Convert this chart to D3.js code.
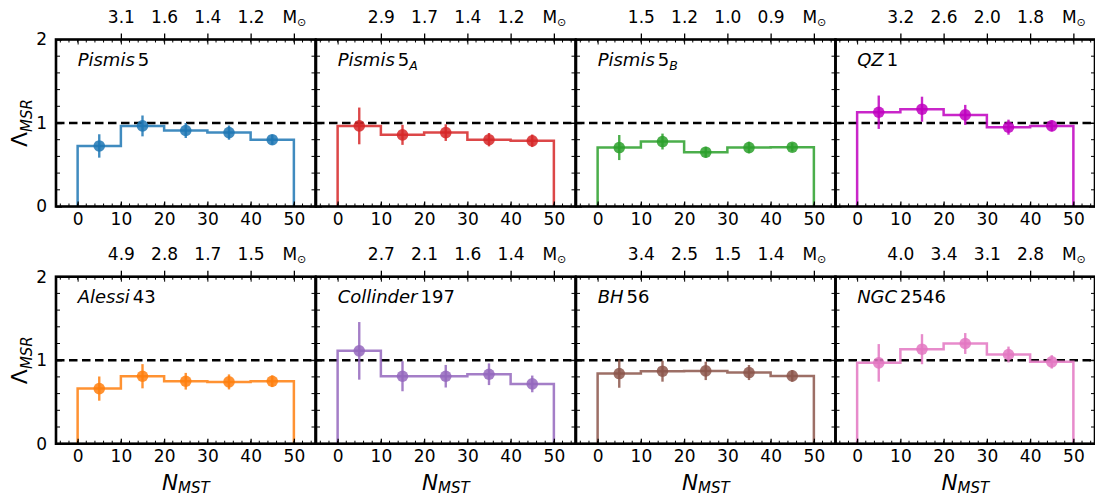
<!DOCTYPE html>
<html><head><meta charset="utf-8">
<script src="https://cdn.jsdelivr.net/npm/d3@7"></script>
<style>
body{margin:0;background:#fff;}
text{font-family:"DejaVu Sans",sans-serif;fill:#000;}
</style></head>
<body><svg id="chart" width="1095" height="499"></svg>
<script>
// ---------------- data ----------------
const titleItalic = ["Pismis","Pismis","Pismis","QZ","Alessi","Collinder","BH","NGC"];
const titleNumber = ["5","5","5","1","43","197","56","2546"];
const titleSub    = ["","A","B","","","","",""];
const seriesColors = ["#1f77b4","#d62728","#2ca02c","#bf00bf","#ff7f0e","#9467bd","#8c564b","#e377c2"];
const binEdges   = [0,10,20,30,40,50];
const binCenters = [5,15,25,35,45];
const massTickPos = [10,20,30,40,50];
const massLabels = [
  ["3.1","1.6","1.4","1.2"],
  ["2.9","1.7","1.4","1.2"],
  ["1.5","1.2","1.0","0.9"],
  ["3.2","2.6","2.0","1.8"],
  ["4.9","2.8","1.7","1.5"],
  ["2.7","2.1","1.6","1.4"],
  ["3.4","2.5","1.5","1.4"],
  ["4.0","3.4","3.1","2.8"]
];
const lambdaValues = [
  [0.725,0.965,0.910,0.885,0.800],
  [0.965,0.858,0.885,0.800,0.787],
  [0.706,0.778,0.650,0.706,0.710],
  [1.129,1.165,1.097,0.950,0.965],
  [0.660,0.808,0.748,0.740,0.748],
  [1.112,0.808,0.808,0.832,0.716],
  [0.840,0.868,0.872,0.852,0.812],
  [0.968,1.132,1.200,1.068,0.980]
];
const lambdaErrors = [
  [0.140,0.125,0.090,0.085,0.060],
  [0.220,0.120,0.100,0.080,0.075],
  [0.150,0.095,0.065,0.070,0.050],
  [0.200,0.150,0.120,0.090,0.065],
  [0.145,0.145,0.100,0.090,0.070],
  [0.345,0.180,0.135,0.130,0.100],
  [0.170,0.125,0.110,0.090,0.070],
  [0.225,0.180,0.125,0.095,0.080]
];
const xTickValues = [0,10,20,30,40,50];
const yTickValues = [0,1,2];

// ---------------- layout ----------------
const svg = d3.select("#chart");
const panelW = 259.5, panelH = 167;
const lefts = [56,316,576,835.5];
const tops = [39.5,276.7];
const tickFont = 17;

const x = d3.scaleLinear().domain([-5,55]).range([0,panelW]);
const y = d3.scaleLinear().domain([0,2]).range([panelH,0]);
const minorX = d3.range(-4,55,2);
const minorY = d3.range(0,2.001,0.2).map(v=>+v.toFixed(2));

titleItalic.forEach((name,i)=>{
  const row = Math.floor(i/4), col = i%4;
  const g = svg.append("g").attr("transform",`translate(${lefts[col]},${tops[row]})`);
  const color = seriesColors[i];
  const vals = lambdaValues[i], errs = lambdaErrors[i];

  // dashed reference line
  g.append("line").attr("x1",0).attr("x2",panelW).attr("y1",y(1)).attr("y2",y(1))
    .attr("stroke","#000").attr("stroke-width",2.4).attr("stroke-dasharray","8.5,4.5");

  // step histogram
  const pts = [[binEdges[0],0]];
  vals.forEach((v,k)=>{ pts.push([binEdges[k],v]); pts.push([binEdges[k+1],v]); });
  pts.push([binEdges[binEdges.length-1],0]);
  g.append("path").datum(pts)
    .attr("d", d3.line().x(d=>x(d[0])).y(d=>y(d[1])))
    .attr("fill","none").attr("stroke",color).attr("stroke-opacity",0.85).attr("stroke-width",2.5);

  // error bars + markers
  binCenters.forEach((c,k)=>{
    g.append("line").attr("x1",x(c)).attr("x2",x(c))
      .attr("y1",y(vals[k]-errs[k])).attr("y2",y(vals[k]+errs[k]))
      .attr("stroke",color).attr("stroke-opacity",0.85).attr("stroke-width",2.4);
    g.append("circle").attr("cx",x(c)).attr("cy",y(vals[k])).attr("r",5.8)
      .attr("fill",color).attr("fill-opacity",0.85);
  });

  // minor ticks (inward, all sides)
  const tk = g.append("g").attr("stroke","#000").attr("stroke-width",1);
  minorX.forEach(v=>{
    tk.append("line").attr("x1",x(v)).attr("x2",x(v)).attr("y1",panelH).attr("y2",panelH-3);
    tk.append("line").attr("x1",x(v)).attr("x2",x(v)).attr("y1",0).attr("y2",3);
  });
  minorY.forEach(v=>{
    tk.append("line").attr("x1",0).attr("x2",4).attr("y1",y(v)).attr("y2",y(v));
    tk.append("line").attr("x1",panelW).attr("x2",panelW-4).attr("y1",y(v)).attr("y2",y(v));
  });

  // bottom axis
  const ax = g.append("g").attr("transform",`translate(0,${panelH})`)
    .call(d3.axisBottom(x).tickValues(xTickValues).tickSize(-5).tickPadding(6.5));
  // left axis
  const ay = g.append("g")
    .call(d3.axisLeft(y).tickValues(yTickValues).tickFormat(d3.format("d")).tickSize(-6).tickPadding(9));
  // right mirrored
  g.append("g").attr("transform",`translate(${panelW},0)`)
    .call(d3.axisRight(y).tickValues(yTickValues).tickSize(-6).tickFormat(""));
  // top mirrored inward
  g.append("g").call(d3.axisTop(x).tickValues(xTickValues).tickSize(-5).tickFormat(""));
  // top secondary (mass) axis
  const topLabels = massLabels[i].concat(["M"]);
  const at = g.append("g")
    .call(d3.axisTop(x).tickValues(massTickPos).tickSize(6).tickPadding(10.5)
      .tickFormat((d,j)=>topLabels[j]));

  [ax,ay,at].forEach(a=>{
    a.selectAll("text").attr("font-size",tickFont).attr("font-family","DejaVu Sans").attr("fill","#000");
    a.selectAll(".tick line").attr("stroke-width",1.3);
  });
  at.selectAll(".tick text").filter((d,j)=>j===topLabels.length-1)
    .append("tspan").attr("font-size",11).attr("dy",3).text("\u2299");
  g.selectAll(".domain").remove();
  if (col>0) ay.selectAll("text").remove();

  // frame
  g.append("rect").attr("x",0).attr("y",0).attr("width",panelW).attr("height",panelH)
    .attr("fill","none").attr("stroke","#000").attr("stroke-width",2.6);

  // title
  const t = g.append("text").attr("x",x(0)).attr("y",26).attr("font-size",18);
  t.append("tspan").attr("font-style","italic").text(name);
  t.append("tspan").attr("dx",3).text(titleNumber[i]);
  if (titleSub[i]) t.append("tspan").attr("font-size",12.5).attr("font-style","italic").attr("dy",4.5).text(titleSub[i]);

  // y label
  if (col===0){
    const yl = g.append("text").attr("transform",`translate(-29,${panelH/2}) rotate(-90)`)
      .attr("text-anchor","middle").attr("font-size",22);
    yl.append("tspan").text("\u039b");
    yl.append("tspan").attr("font-size",15).attr("font-style","italic").attr("dy",5).text("MSR");
  }
  // x label
  if (row===1){
    const xl = g.append("text").attr("x",panelW/2).attr("y",panelH+46)
      .attr("text-anchor","middle").attr("font-size",21.5);
    xl.append("tspan").attr("font-style","italic").text("N");
    xl.append("tspan").attr("font-size",15).attr("font-style","italic").attr("dy",3.5).text("MST");
  }
});
</script>
</body></html>
